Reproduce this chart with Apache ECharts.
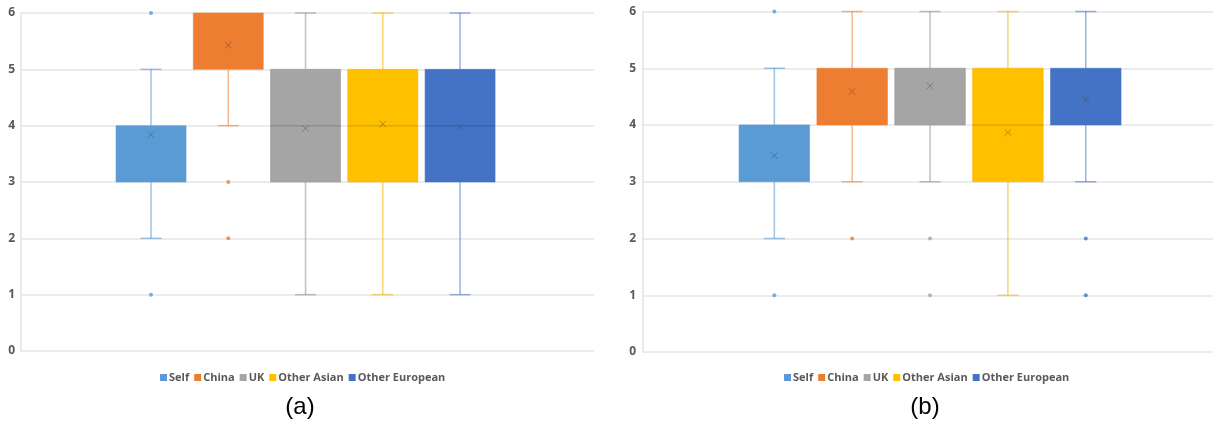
<!DOCTYPE html>
<html>
<head>
<meta charset="utf-8">
<script src="https://cdn.jsdelivr.net/npm/echarts@6/dist/echarts.min.js"></script>
<style>
html,body{margin:0;padding:0;background:#fff;}
#chart{width:1215px;height:428px;}
</style>
</head>
<body>
<div id="chart"></div>
<script>
// ---- data ----
const CATEGORIES = ['Self', 'China', 'UK', 'Other Asian', 'Other European'];
const Y_TICKS = [0, 1, 2, 3, 4, 5, 6];
const PANEL_LABELS = ['(a)', '(b)'];

// Panel (a)
const A_MIN = [2, 4, 1, 1, 1];
const A_Q1 = [3, 5, 3, 3, 3];
const A_MEDIAN = [4, 6, 4, 4, 4];
const A_Q3 = [4, 6, 5, 5, 5];
const A_MAX = [5, 6, 6, 6, 6];
const A_MEAN = [3.84, 5.43, 3.95, 4.03, 3.97];
const A_OUTLIERS = [[1, 6], [2, 3], [], [], []];

// Panel (b)
const B_MIN = [2, 3, 3, 1, 3];
const B_Q1 = [3, 4, 4, 3, 4];
const B_MEDIAN = [4, 5, 5, 4, 4];
const B_Q3 = [4, 5, 5, 5, 5];
const B_MAX = [5, 6, 6, 6, 6];
const B_MEAN = [3.46, 4.59, 4.69, 3.87, 4.45];
const B_OUTLIERS = [[1, 6], [2], [1, 2], [], [1, 2]];

// ---- styles ----
const COLORS = ['#5B9BD5', '#ED7D31', '#A5A5A5', '#FFC000', '#4472C4'];
const LIGHT = ['rgba(91,155,213,0.6)', 'rgba(237,125,49,0.55)', 'rgba(150,150,150,0.6)', 'rgba(240,180,0,0.55)', 'rgba(68,114,196,0.55)'];
const LABEL_COLOR = '#595959';
const FONT = 'Open Sans';

const chart = echarts.init(document.getElementById('chart'), null, {renderer: 'canvas'});

function renderBox(params, api) {
  const x = api.value(0);
  const idx = x;
  const pMin = api.coord([x, api.value(1)]);
  const pQ1 = api.coord([x, api.value(2)]);
  const pMed = api.coord([x, api.value(3)]);
  const pQ3 = api.coord([x, api.value(4)]);
  const pMax = api.coord([x, api.value(5)]);
  const pMean = api.coord([x, api.value(6)]);
  const band = api.size([1, 0])[0];
  const w = band * 0.906;
  const cap = w * 0.3;
  const cx = pQ1[0];
  const light = LIGHT[idx];
  const children = [];
  const lineStyle = {stroke: light, lineWidth: 1.5};
  if (api.value(5) > api.value(4)) {
    children.push({type: 'line', shape: {x1: cx, y1: pMax[1], x2: cx, y2: pQ3[1]}, style: lineStyle});
    children.push({type: 'line', shape: {x1: cx - cap / 2, y1: pMax[1], x2: cx + cap / 2, y2: pMax[1]}, style: lineStyle});
  }
  if (api.value(1) < api.value(2)) {
    children.push({type: 'line', shape: {x1: cx, y1: pQ1[1], x2: cx, y2: pMin[1]}, style: lineStyle});
    children.push({type: 'line', shape: {x1: cx - cap / 2, y1: pMin[1], x2: cx + cap / 2, y2: pMin[1]}, style: lineStyle});
  }
  children.push({
    type: 'rect',
    shape: {x: cx - w / 2, y: pQ3[1], width: w, height: pQ1[1] - pQ3[1]},
    style: {fill: COLORS[idx], stroke: light, lineWidth: 1}
  });
  if (api.value(3) > api.value(2) && api.value(3) < api.value(4)) {
    children.push({type: 'line', shape: {x1: cx - w / 2, y1: pMed[1], x2: cx + w / 2, y2: pMed[1]}, style: {stroke: 'rgba(0,0,0,0.13)', lineWidth: 1.5}});
  }
  const m = 3.2;
  const markStyle = {stroke: 'rgba(70,70,70,0.45)', lineWidth: 1};
  children.push({type: 'line', shape: {x1: cx - m, y1: pMean[1] - m, x2: cx + m, y2: pMean[1] + m}, style: markStyle});
  children.push({type: 'line', shape: {x1: cx - m, y1: pMean[1] + m, x2: cx + m, y2: pMean[1] - m}, style: markStyle});
  return {type: 'group', children: children};
}

function panelSeries(xIdx, yIdx, mins, q1s, meds, q3s, maxs, means, outliers) {
  const list = CATEGORIES.map((name, i) => ({
    type: 'custom',
    name: name,
    xAxisIndex: xIdx,
    yAxisIndex: yIdx,
    itemStyle: {color: COLORS[i]},
    encode: {x: 0, y: [1, 2, 3, 4, 5, 6]},
    renderItem: renderBox,
    data: [[i, mins[i], q1s[i], meds[i], q3s[i], maxs[i], means[i]]],
    z: 2
  }));
  const pts = [];
  outliers.forEach((vals, i) => vals.forEach(v => pts.push([i, v])));
  list.push({
    type: 'scatter',
    name: 'outliers',
    xAxisIndex: xIdx,
    yAxisIndex: yIdx,
    symbol: 'circle',
    symbolSize: 4,
    itemStyle: {color: p => COLORS[p.value[0]]},
    data: pts,
    z: 3
  });
  return list;
}

function outerY(gridIndex, margin) {
  return {
    type: 'value', gridIndex: gridIndex, min: Y_TICKS[0], max: Y_TICKS[Y_TICKS.length - 1], interval: 1,
    axisLine: {show: true, lineStyle: {color: '#E3E3E3', width: 1.5}},
    axisTick: {show: false},
    axisLabel: {color: LABEL_COLOR, fontSize: 12, fontWeight: 'bold', fontFamily: FONT, margin: margin},
    splitLine: {show: true, lineStyle: {color: '#E6E6E6', width: 1.5}}
  };
}
function innerY(gridIndex) {
  return {
    type: 'value', gridIndex: gridIndex, min: Y_TICKS[0], max: Y_TICKS[Y_TICKS.length - 1], interval: 1,
    show: false, splitLine: {show: false}
  };
}
function hiddenX(gridIndex, data) {
  return {type: 'category', gridIndex: gridIndex, data: data, show: false, splitLine: {show: false}};
}

function legendFor(left) {
  return {
    left: left, top: 367, data: CATEGORIES,
    icon: 'rect', itemWidth: 7, itemHeight: 7, itemGap: 5,
    textStyle: {color: LABEL_COLOR, fontSize: 11, fontWeight: 'bold', fontFamily: FONT, padding: [0, 0, 0, -3]},
    selectedMode: false
  };
}

const option = {
  animation: false,
  backgroundColor: '#ffffff',
  grid: [
    {left: 21, top: 13, width: 573, height: 338},
    {left: 112.4, top: 13, width: 386.3, height: 338},
    {left: 643, top: 11.5, width: 570, height: 340.5},
    {left: 735.4, top: 11.5, width: 389.3, height: 340.5}
  ],
  xAxis: [hiddenX(0, ['']), hiddenX(1, CATEGORIES), hiddenX(2, ['']), hiddenX(3, CATEGORIES)],
  yAxis: [outerY(0, 6), innerY(1), outerY(2, 7), innerY(3)],
  legend: [legendFor(155), legendFor(779)],
  graphic: [
    {type: 'text', x: 300, y: 407, style: {text: PANEL_LABELS[0], font: '24px "Liberation Sans", Arial', fill: '#000', textAlign: 'center', textVerticalAlign: 'middle'}},
    {type: 'text', x: 925, y: 407, style: {text: PANEL_LABELS[1], font: '24px "Liberation Sans", Arial', fill: '#000', textAlign: 'center', textVerticalAlign: 'middle'}}
  ],
  series: [
    ...panelSeries(1, 1, A_MIN, A_Q1, A_MEDIAN, A_Q3, A_MAX, A_MEAN, A_OUTLIERS),
    ...panelSeries(3, 3, B_MIN, B_Q1, B_MEDIAN, B_Q3, B_MAX, B_MEAN, B_OUTLIERS)
  ]
};
chart.setOption(option);
</script>
</body>
</html>
